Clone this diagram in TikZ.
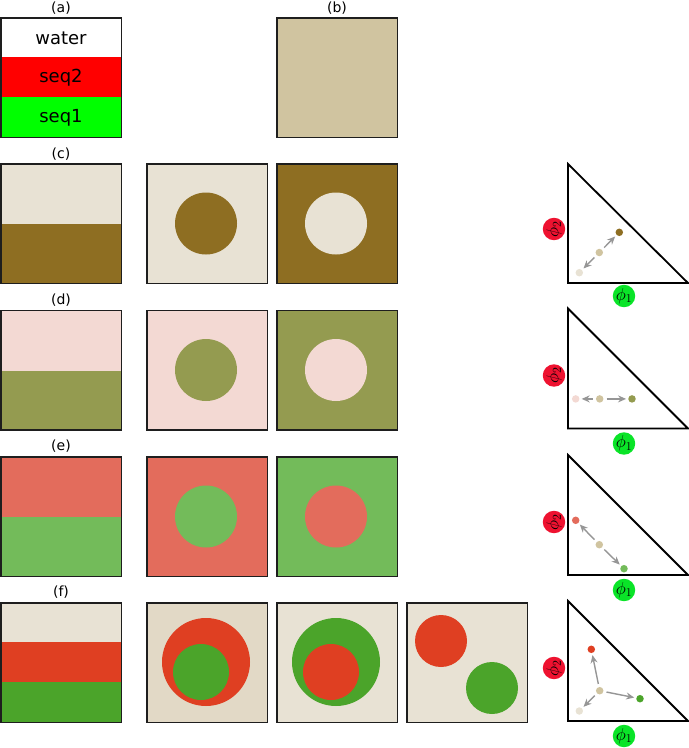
\documentclass[tikz,border=0pt]{standalone}
\usepackage{fontspec}
\setmainfont{DejaVu Sans}
\usetikzlibrary{arrows.meta}
\definecolor{tanmix}{RGB}{208,196,160}
\definecolor{clight}{RGB}{232,226,212}
\definecolor{cdark}{RGB}{142,110,34}
\definecolor{dpink}{RGB}{243,217,211}
\definecolor{dolive}{RGB}{148,155,80}
\definecolor{ered}{RGB}{227,108,92}
\definecolor{egreen}{RGB}{115,187,90}
\definecolor{fred}{RGB}{223,63,34}
\definecolor{fgreen}{RGB}{75,164,42}
\definecolor{fbg}{RGB}{226,217,198}
\definecolor{lblred}{RGB}{238,18,48}
\definecolor{lblgreen}{RGB}{10,228,40}
\definecolor{arrgray}{RGB}{150,150,150}
\definecolor{frame}{RGB}{30,30,30}
\tikzset{
  frm/.style={draw=frame,line width=1.5pt},
  tri/.style={draw=black,line width=1.8pt,line join=miter},
  plabel/.style={font=\fontsize{14}{16}\selectfont,inner sep=0pt},
  legtext/.style={font=\fontsize{18}{20}\selectfont,inner sep=0pt},
  dot/.style={circle,inner sep=0pt,minimum size=7.5pt},
  arr/.style={draw=arrgray,line width=1.4pt,-{Stealth[length=8pt,width=7pt]},shorten >=2pt,shorten <=3pt},
  philbl/.style={circle,inner sep=0pt,minimum size=22pt,font=\fontsize{17}{17}\selectfont},
}
\begin{document}
\begin{tikzpicture}[x=1pt,y=-1pt]
\useasboundingbox (0,0) rectangle (689,748);
% ---------- (a) ----------
\node[plabel] (la) at (61,8) {(a)};
\fill[white] (0,17) rectangle (122,57);
\fill[red] (0,57) rectangle (122,97);
\fill[green] (0,97) rectangle (122,138);
\draw[frm] (0.75,17.75) rectangle (121.25,137.25);
\node[legtext] (lw) at (61,38) {water};
\node[legtext] (l2) at (61,78) {seq2};
\node[legtext] (l1) at (61,118) {seq1};
% ---------- (b) ----------
\node[plabel] (lb) at (337,8) {(b)};
\fill[tanmix] (276,17) rectangle (398,138);
\draw[frm] (276.75,17.75) rectangle (397.25,137.25);
% ---------- (c) ----------
\node[plabel] (lc) at (61,154) {(c)};
\begin{scope}[yshift=-163pt]
  \fill[clight] (0,0) rectangle (122,61);
  \fill[cdark] (0,61) rectangle (122,121);
  \draw[frm] (0.75,0.75) rectangle (121.25,120.25);
  \fill[clight] (146,0) rectangle (268,121);
  \fill[cdark] (206,60.5) circle (31);
  \draw[frm] (146.75,0.75) rectangle (267.25,120.25);
  \fill[cdark] (276,0) rectangle (398,121);
  \fill[clight] (336,60.5) circle (31);
  \draw[frm] (276.75,0.75) rectangle (397.25,120.25);
  \draw[tri] (568,1) -- (568,120) -- (688,120) -- cycle;
  \node[philbl,fill=lblred,rotate=90] (p2c) at (554,66) {$\phi_2$};
  \node[philbl,fill=lblgreen] (p1c) at (624,133) {$\phi_1$};
  \begin{scope}[shift={(568,120)}]
    \node[dot,fill=tanmix] (mc) at (31.3,-30.5) {};
    \node[dot,fill=cdark] (dc) at (51.3,-50.7) {};
    \node[dot,fill=clight] (wc) at (11.3,-10.3) {};
    \draw[arr] (mc) -- (dc);
    \draw[arr] (mc) -- (wc);
  \end{scope}
\end{scope}
% ---------- (d) ----------
\node[plabel] (ld) at (61,300) {(d)};
\begin{scope}[yshift=-309.5pt]
  \fill[dpink] (0,0) rectangle (122,61);
  \fill[dolive] (0,61) rectangle (122,121);
  \draw[frm] (0.75,0.75) rectangle (121.25,120.25);
  \fill[dpink] (146,0) rectangle (268,121);
  \fill[dolive] (206,60.5) circle (31);
  \draw[frm] (146.75,0.75) rectangle (267.25,120.25);
  \fill[dolive] (276,0) rectangle (398,121);
  \fill[dpink] (336,60.5) circle (31);
  \draw[frm] (276.75,0.75) rectangle (397.25,120.25);
  \draw[tri] (568,-1) -- (568,119) -- (688,119) -- cycle;
  \node[philbl,fill=lblred,rotate=90] (p2d) at (554,66) {$\phi_2$};
  \node[philbl,fill=lblgreen] (p1d) at (624,134) {$\phi_1$};
  \begin{scope}[shift={(568,119)}]
    \node[dot,fill=tanmix] (md) at (31.7,-29.6) {};
    \node[dot,fill=dolive] (od) at (64,-29.6) {};
    \node[dot,fill=dpink] (pd) at (7.7,-29.6) {};
    \draw[arr] (md) -- (od);
    \draw[arr] (md) -- (pd);
  \end{scope}
\end{scope}
% ---------- (e) ----------
\node[plabel] (le) at (61,446) {(e)};
\begin{scope}[yshift=-456pt]
  \fill[ered] (0,0) rectangle (122,60.5);
  \fill[egreen] (0,60.5) rectangle (122,121);
  \draw[frm] (0.75,0.75) rectangle (121.25,120.25);
  \fill[ered] (146,0) rectangle (268,121);
  \fill[egreen] (206,60.5) circle (31);
  \draw[frm] (146.75,0.75) rectangle (267.25,120.25);
  \fill[egreen] (276,0) rectangle (398,121);
  \fill[ered] (336,60.5) circle (31);
  \draw[frm] (276.75,0.75) rectangle (397.25,120.25);
  \draw[tri] (568,-1) -- (568,119) -- (688,119) -- cycle;
  \node[philbl,fill=lblred,rotate=90] (p2e) at (554,66) {$\phi_2$};
  \node[philbl,fill=lblgreen] (p1e) at (624,134) {$\phi_1$};
  \begin{scope}[shift={(568,119)}]
    \node[dot,fill=tanmix] (me) at (31.3,-30.3) {};
    \node[dot,fill=ered] (re) at (7.7,-54.7) {};
    \node[dot,fill=egreen] (ge) at (56,-6.3) {};
    \draw[arr] (me) -- (re);
    \draw[arr] (me) -- (ge);
  \end{scope}
\end{scope}
% ---------- (f) ----------
\node[plabel] (lf) at (61,592) {(f)};
\begin{scope}[yshift=-602pt]
  \fill[clight] (0,0) rectangle (122,40);
  \fill[fred] (0,40) rectangle (122,80);
  \fill[fgreen] (0,80) rectangle (122,121);
  \draw[frm] (0.75,0.75) rectangle (121.25,120.25);
  \fill[fbg] (146,0) rectangle (268,121);
  \fill[fred] (206,60) circle (44);
  \fill[fgreen] (201,70) circle (28);
  \draw[frm] (146.75,0.75) rectangle (267.25,120.25);
  \fill[clight] (276,0) rectangle (398,121);
  \fill[fgreen] (336,60) circle (44);
  \fill[fred] (331,70) circle (28);
  \draw[frm] (276.75,0.75) rectangle (397.25,120.25);
  \fill[clight] (406,0) rectangle (528,121);
  \fill[fred] (441,39) circle (26);
  \fill[fgreen] (492,86) circle (26);
  \draw[frm] (406.75,0.75) rectangle (527.25,120.25);
  \draw[tri] (568,-1) -- (568,119) -- (688,119) -- cycle;
  \node[philbl,fill=lblred,rotate=90] (p2f) at (554,66) {$\phi_2$};
  \node[philbl,fill=lblgreen] (p1f) at (624,134) {$\phi_1$};
  \begin{scope}[shift={(568,119)}]
    \node[dot,fill=tanmix] (mf) at (31.7,-30.3) {};
    \node[dot,fill=fred] (rf) at (23.3,-71.7) {};
    \node[dot,fill=fgreen] (gf) at (72,-22.3) {};
    \node[dot,fill=clight] (wf) at (11.3,-10) {};
    \draw[arr] (mf) -- (rf);
    \draw[arr] (mf) -- (gf);
    \draw[arr] (mf) -- (wf);
  \end{scope}
\end{scope}
\end{tikzpicture}
\end{document}
